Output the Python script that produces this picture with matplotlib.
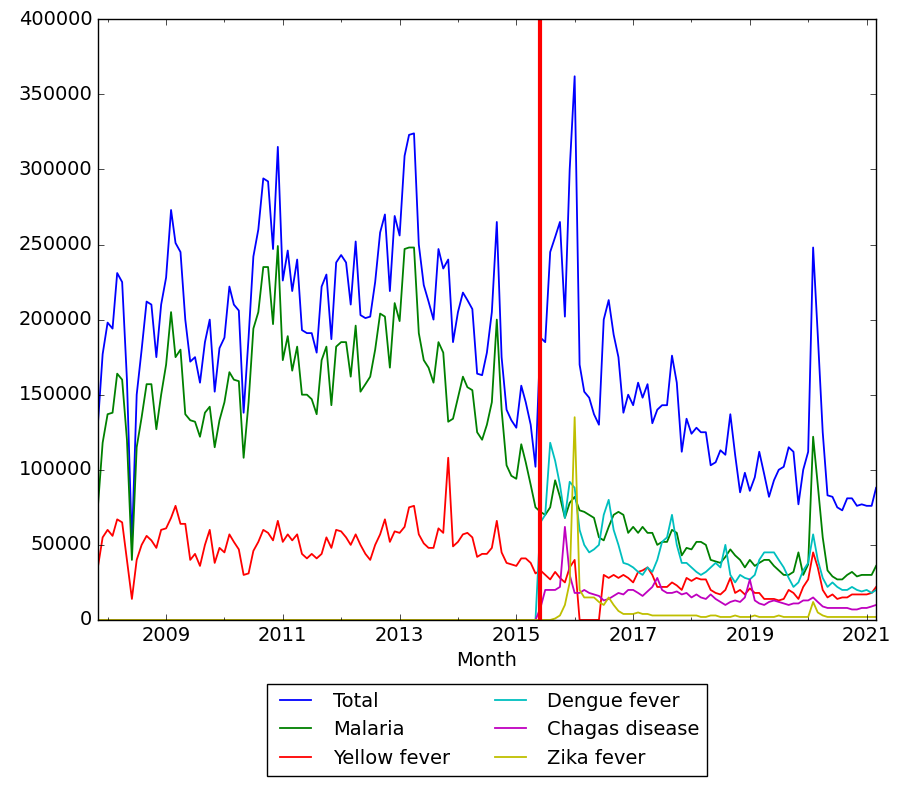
import matplotlib
matplotlib.use("Agg")
import matplotlib.pyplot as plt
import matplotlib.dates as mdates
import matplotlib.ticker as mticker
import numpy as np
import pandas as pd

plt.style.use('classic')

months = pd.date_range("2007-11-01", "2021-03-01", freq="MS")

total_k = [130,177,198,194,231,225,160,50,150,180,212,210,175,210,228,273,251,245,200,172,
           175,158,185,200,152,181,188,222,210,206,138,188,242,260,294,292,247,315,226,246,
           219,240,193,191,191,178,
           222,230,187,238,243,238,210,252,203,201,202,225,258,270,219,269,256,309,323,324,
           250,223,212,200,247,234,240,185,205,218,213,207,164,163,178,205,265,175,140,133,
           128,156,145,130,102,
           188,185,245,255,265,202,300,362,170,152,148,137,130,200,213,190,175,138,150,143,
           158,148,157,131,140,143,143,176,158,112,134,124,128,125,125,103,105,113,110,137,
           110,85,98,86,95,112,97,82,93,100,102,115,112,77,100,112,248,190,125,83,
           82,75,73,81,81,76,77,76,76,88]
malaria_k = [75,118,137,138,164,160,120,40,115,135,157,157,127,150,170,205,175,180,137,133,
             132,122,138,142,115,133,145,165,160,159,108,145,194,205,235,235,197,249,173,189,
             166,182,150,150,147,137,
             173,182,143,182,185,185,162,196,152,157,162,180,204,202,168,211,199,247,248,248,
             191,173,168,158,185,178,132,134,148,162,155,153,125,120,130,145,200,140,103,96,
             94,117,105,90,75,
             72,70,75,93,82,68,78,82,73,72,70,68,55,53,62,70,72,70,58,62,
             58,62,58,58,50,52,52,60,58,43,48,47,52,52,50,40,39,38,42,47,
             43,40,35,40,36,38,40,40,36,33,30,30,32,45,30,37,122,90,55,33,
             29,27,27,30,32,29,30,30,30,36]
yellow_k = [35,55,60,56,67,65,40,14,40,50,56,53,48,60,61,68,76,64,64,40,
            44,36,50,60,38,48,45,57,52,47,30,31,46,52,60,58,53,66,52,57,
            53,57,44,41,44,41,
            44,55,48,60,59,55,50,57,50,44,40,50,57,67,52,59,58,62,75,76,
            57,51,48,48,61,58,108,49,52,57,58,55,42,44,44,48,66,45,38,37,
            36,41,41,38,31,
            33,30,27,32,28,25,35,40,0,0,0,0,0,30,28,30,28,30,28,25,
            32,33,35,30,22,22,22,25,23,20,28,26,28,27,27,20,18,17,20,28,
            18,20,17,21,18,18,14,14,14,13,14,20,18,14,22,27,45,35,20,15,
            17,14,15,15,17,17,17,17,18,22]
before_2015 = [0]*91
dengue_k = before_2015 + [65,70,118,106,90,68,92,88,60,50,45,47,50,70,80,60,50,38,37,35,
            32,30,35,32,40,52,55,70,50,38,38,35,32,30,32,35,38,35,50,30,
            25,30,28,27,30,40,45,45,45,40,35,28,22,25,33,38,57,40,28,22,
            25,22,20,20,22,20,19,20,18,20]
chagas_k = before_2015 + [8,20,20,20,22,62,30,18,18,20,18,17,16,13,14,16,18,17,20,20,
            18,16,19,22,28,20,18,18,19,17,18,15,17,15,14,17,14,12,10,12,
            13,12,15,27,13,11,10,12,13,12,11,10,11,11,13,13,15,12,9,8,
            8,8,8,8,7,7,8,8,9,10]
zika_k = before_2015 + [0,0,0,1,3,10,25,135,20,15,15,15,12,10,15,10,6,4,4,4,
            5,4,4,3,3,3,3,3,3,3,
            3,3,3,2,2,3,3,2,2,2,3,2,2,2,3,2,2,2,2,3,2,2,2,2,2,2,
            12,5,3,
            2,2,2,2,2,2,2,2,2,2,2]

labels = ["Total", "Malaria", "Yellow fever", "Dengue fever", "Chagas disease", "Zika fever"]
colors = ["b", "g", "r", "c", "m", "y"]
series = [total_k, malaria_k, yellow_k, dengue_k, chagas_k, zika_k]
tick_years = [2009, 2011, 2013, 2015, 2017, 2019, 2021]

fig = plt.figure(figsize=(9.06, 8.01), dpi=100, facecolor="white")
ax = fig.add_axes([0.108, 0.226, 0.859, 0.750])
lines = []
for lab, col, s in zip(labels, colors, series):
    l, = ax.plot(months, np.array(s) * 1000, color=col, lw=1.3, label=lab)
    lines.append(l)
ax.axvline(pd.Timestamp("2015-06-01"), color="red", lw=3)
ax.set_xlim(months[0], months[-1])
ax.set_ylim(0, 400000)
ax.xaxis.set_major_locator(mticker.FixedLocator(
    [mdates.date2num(pd.Timestamp(f"{y}-01-01")) for y in tick_years]))
ax.xaxis.set_minor_locator(mdates.YearLocator(1, month=1, day=1))
ax.xaxis.set_major_formatter(mdates.DateFormatter("%Y"))
ax.tick_params(labelsize=14)
ax.set_xlabel("Month", fontsize=14)
ax.legend(lines, labels, loc="upper center", bbox_to_anchor=(0.5, -0.09), ncol=2,
          fontsize=14, frameon=True, fancybox=False, handlelength=2.2, columnspacing=2.0)
fig.savefig("out.png", dpi=100, facecolor="white")
